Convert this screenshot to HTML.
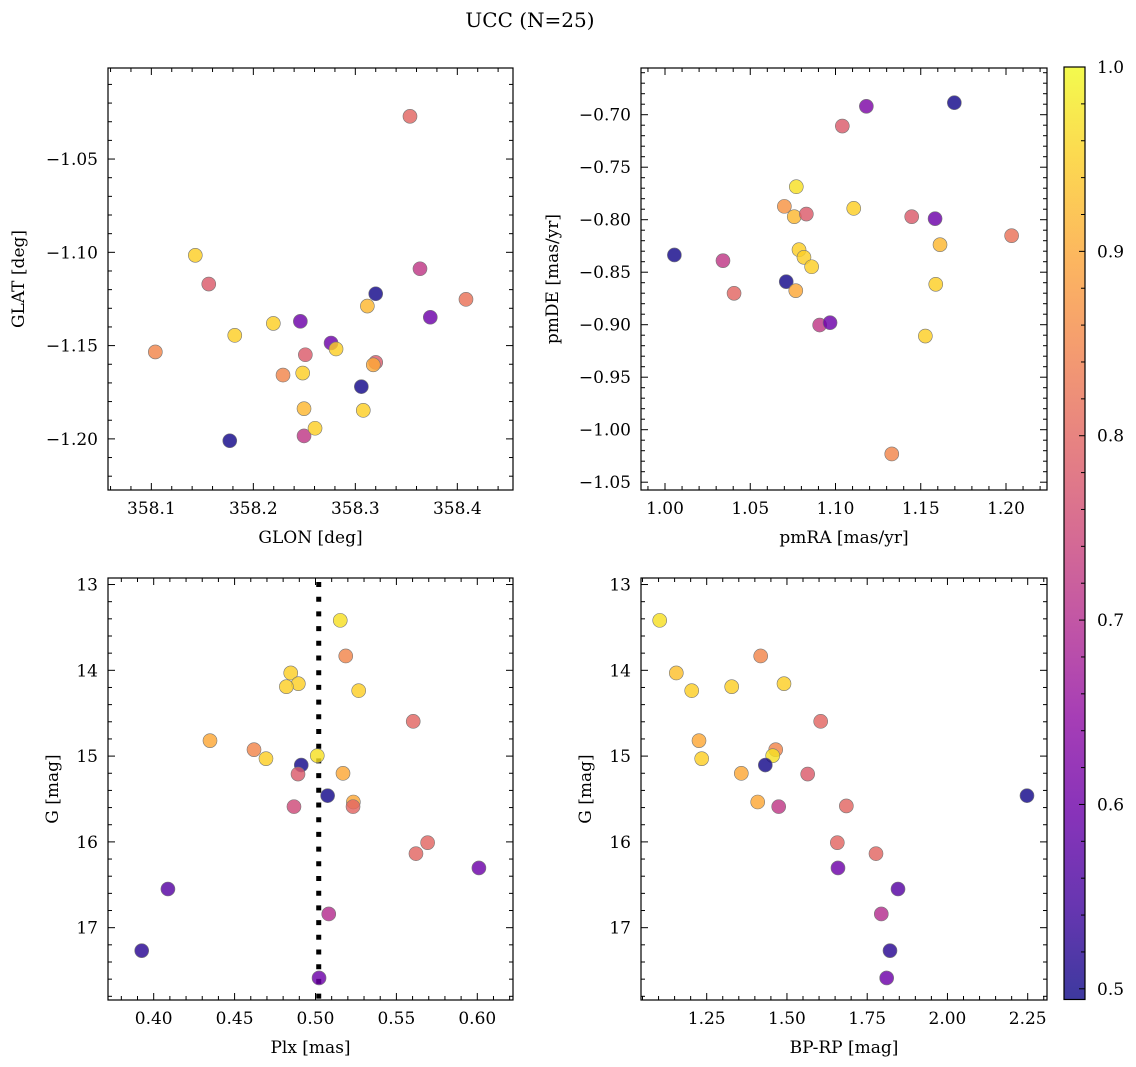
<!DOCTYPE html>
<html><head><meta charset="utf-8">
<style>
html,body{margin:0;padding:0;background:#fff;}
svg{display:block;font-family:"DejaVu Serif","Liberation Serif",serif;}
</style></head>
<body>
<svg id="fig" width="1136" height="1067" viewBox="0 0 1136 1067" xmlns="http://www.w3.org/2000/svg">
<defs>
<linearGradient id="plasma" x1="0" y1="1" x2="0" y2="0">
<stop offset="0" stop-color="#0d0887"/><stop offset="0.1" stop-color="#41049d"/><stop offset="0.2" stop-color="#6a00a8"/><stop offset="0.3" stop-color="#8f0da4"/><stop offset="0.4" stop-color="#b12a90"/><stop offset="0.5" stop-color="#cc4778"/><stop offset="0.6" stop-color="#e16462"/><stop offset="0.7" stop-color="#f2844b"/><stop offset="0.8" stop-color="#fca636"/><stop offset="0.9" stop-color="#fcce25"/><stop offset="1" stop-color="#f0f921"/>
</linearGradient>
</defs>
<text x="530" y="27" font-size="20" text-anchor="middle">UCC (N=25)</text>
</svg>
<script>
// ---- data ----
const glon = [358.3536,358.1431,358.1563,358.1039,358.1818,358.2196,358.2461,358.2510,358.2291,358.2484,358.2497,358.2497,358.2605,358.1769,358.2762,358.2811,358.3118,358.3200,358.3176,358.3059,358.3078,358.3200,358.3634,358.3735,358.4085];
const glat = [-1.0271,-1.1016,-1.1170,-1.1534,-1.1445,-1.1381,-1.1370,-1.1549,-1.1658,-1.1647,-1.1838,-1.1984,-1.1943,-1.2010,-1.1486,-1.1518,-1.1288,-1.1590,-1.1603,-1.1720,-1.1847,-1.1222,-1.1088,-1.1348,-1.1252];
const prob1 = [0.8,0.95,0.78,0.85,0.95,0.95,0.6,0.78,0.85,0.95,0.92,0.72,0.95,0.5,0.6,0.95,0.92,0.78,0.9,0.5,0.95,0.5,0.72,0.6,0.82];

const pmra = [1.1697,1.1181,1.1040,1.0770,1.0700,1.0758,1.0829,1.1107,1.1447,1.1584,1.2033,1.1613,1.0055,1.0340,1.0786,1.0815,1.0860,1.0711,1.0767,1.0405,1.1588,1.0907,1.0968,1.1527,1.1330];
const pmde = [-0.6886,-0.6920,-0.7108,-0.7686,-0.7873,-0.7971,-0.7946,-0.7892,-0.7971,-0.7990,-0.8152,-0.8238,-0.8336,-0.8390,-0.8286,-0.8358,-0.8448,-0.8590,-0.8676,-0.8701,-0.8615,-0.9003,-0.8981,-0.9108,-1.0231];
const prob2 = [0.5,0.62,0.78,0.97,0.87,0.92,0.78,0.95,0.78,0.6,0.82,0.92,0.5,0.72,0.95,0.95,0.95,0.5,0.9,0.8,0.95,0.72,0.6,0.95,0.85];

const plx = [0.5153,0.5187,0.4847,0.4894,0.4820,0.5267,0.5604,0.4348,0.4620,0.4694,0.5011,0.4912,0.4892,0.5170,0.5075,0.5234,0.5232,0.4867,0.5693,0.5621,0.6010,0.4088,0.5082,0.3926,0.5022];
const gmag3 = [13.418,13.833,14.031,14.156,14.191,14.237,14.595,14.820,14.925,15.030,14.995,15.104,15.209,15.201,15.461,15.535,15.589,15.589,16.009,16.137,16.304,16.549,16.840,17.268,17.586];
const prob3 = [0.97,0.85,0.95,0.95,0.95,0.95,0.8,0.9,0.85,0.95,0.97,0.5,0.78,0.9,0.5,0.9,0.8,0.75,0.8,0.8,0.6,0.57,0.7,0.52,0.6];
const plxLine = [0.502];

const bprp = [1.1036,1.1553,1.2033,1.3279,1.4182,1.4908,1.6051,1.2260,1.2344,1.4650,1.4556,1.3578,1.4326,1.5646,1.4089,1.4743,1.6850,1.6569,1.7774,1.6590,1.8460,1.7939,1.8210,1.8107,2.2478];
const gmag4 = [13.418,14.031,14.237,14.191,13.833,14.156,14.595,14.820,15.030,14.925,14.995,15.201,15.104,15.209,15.535,15.589,15.581,16.009,16.137,16.304,16.549,16.840,17.268,17.586,15.461];
const prob4 = [0.97,0.93,0.95,0.95,0.85,0.95,0.8,0.9,0.95,0.85,0.97,0.9,0.5,0.78,0.9,0.72,0.8,0.8,0.8,0.6,0.57,0.7,0.52,0.6,0.5];

const cbTicks = [0.5,0.6,0.7,0.8,0.9,1.0];

const NS='http://www.w3.org/2000/svg';
const svg=document.getElementById('fig');
function el(tag,attrs,parent){const e=document.createElementNS(NS,tag);for(const k in attrs)e.setAttribute(k,attrs[k]);(parent||svg).appendChild(e);return e;}

const stops=[[13,8,135],[65,4,157],[106,0,168],[143,13,164],[177,42,144],[204,71,120],[225,100,98],[242,132,75],[252,166,54],[252,206,37],[240,249,33]];
const VMIN=0.4942,VMAX=1.0;
function cmap(v){let t=(v-VMIN)/(VMAX-VMIN);t=Math.max(0,Math.min(1,t))*10;const i=Math.min(9,Math.floor(t)),f=t-i;const a=stops[i],b=stops[i+1];return 'rgb('+a.map((c,k)=>Math.round(c+(b[k]-c)*f)).join(',')+')';}

function fmt(v,d){return v.toFixed(d).replace('-','\u2212');}

function panel(p){
  const g=el('g',{});
  
  
  const sx=v=>p.x0+(v-p.xlim[0])/(p.xlim[1]-p.xlim[0])*(p.x1-p.x0);
  const sy=v=>p.y1-(v-p.ylim[0])/(p.ylim[1]-p.ylim[0])*(p.y1-p.y0);
  const tg=el('g',{stroke:'#000','stroke-width':1},g);
  const eps=1e-9;
  const lo=Math.min(...p.xlim),hi=Math.max(...p.xlim);
  for(let k=Math.ceil(lo/p.xminor-eps);k*p.xminor<=hi+eps;k++){
    const v=k*p.xminor;
    const x=sx(v);const maj=Math.abs(v/p.xmajor-Math.round(v/p.xmajor))<1e-6;const L=maj?7:4;
    el('line',{x1:x,x2:x,y1:p.y1,y2:p.y1-L},tg);el('line',{x1:x,x2:x,y1:p.y0,y2:p.y0+L},tg);
    if(maj){const t=el('text',{x:x,y:p.y1+24,'font-size':17,'text-anchor':'middle',stroke:'none',fill:'#000'},g);t.textContent=fmt(v,p.xdec);
      }
  }
  const ylo=Math.min(...p.ylim),yhi=Math.max(...p.ylim);
  for(let k=Math.ceil(ylo/p.yminor-eps);k*p.yminor<=yhi+eps;k++){
    const v=k*p.yminor;
    const y=sy(v);const maj=Math.abs(v/p.ymajor-Math.round(v/p.ymajor))<1e-6;const L=maj?7:4;
    el('line',{x1:p.x0,x2:p.x0+L,y1:y,y2:y},tg);el('line',{x1:p.x1,x2:p.x1-L,y1:y,y2:y},tg);
    if(maj){const t=el('text',{x:p.x0-10,y:y+6,'font-size':17,'text-anchor':'end',stroke:'none',fill:'#000'},g);t.textContent=fmt(v,p.ydec);
      }
  }
  if(p.vline){const x=sx(p.vline[0]);const l=el('line',{x1:x,x2:x,y1:p.y0+4,y2:p.y1,stroke:'#000','stroke-width':5,'stroke-dasharray':'5,9.7'},g);
    }
  for(let i=0;i<p.xs.length;i++){
    const c=el('circle',{cx:sx(p.xs[i]),cy:sy(p.ys[i]),r:7,fill:cmap(p.cs[i]),'fill-opacity':0.82,stroke:'#777','stroke-width':0.6},g);
    
  }
  const fr=el('rect',{x:p.x0,y:p.y0,width:p.x1-p.x0,height:p.y1-p.y0,fill:'none',stroke:'#000','stroke-width':1.2},g);
  
  const xl=el('text',{x:(p.x0+p.x1)/2,y:p.y1+53,'font-size':17,'text-anchor':'middle'},g);xl.textContent=p.xlabel;
  
  const yx=p.ylx,yy=(p.y0+p.y1)/2;
  const yl=el('text',{x:yx,y:yy,'font-size':17,'text-anchor':'middle',transform:'rotate(-90 '+yx+' '+yy+')'},g);yl.textContent=p.ylabel;
  
}

panel({name:'glon-glat-panel',x0:108,x1:513,y0:68,y1:490,xlim:[358.0575,358.4546],ylim:[-1.2274,-1.0012],xmajor:0.1,xminor:0.02,ymajor:0.05,yminor:0.01,xdec:1,ydec:2,xs:glon,ys:glat,cs:prob1,xlabel:'GLON [deg]',ylabel:'GLAT [deg]',ylx:24});
panel({name:'proper-motion-panel',x0:641,x1:1047,y0:68,y1:490,xlim:[0.98592,1.22405],ylim:[-1.05743,-0.65552],xmajor:0.05,xminor:0.01,ymajor:0.05,yminor:0.01,xdec:2,ydec:2,xs:pmra,ys:pmde,cs:prob2,xlabel:'pmRA [mas/yr]',ylabel:'pmDE [mas/yr]',ylx:558});
panel({name:'parallax-mag-panel',x0:108,x1:513,y0:578,y1:1000,xlim:[0.37176,0.62207],ylim:[17.843,12.924],xmajor:0.05,xminor:0.01,ymajor:1,yminor:0.2,xdec:2,ydec:0,xs:plx,ys:gmag3,cs:prob3,vline:plxLine,xlabel:'Plx [mas]',ylabel:'G [mag]',ylx:58});
panel({name:'cmd-panel',x0:641,x1:1047,y0:578,y1:1000,xlim:[1.04533,2.31012],ylim:[17.843,12.924],xmajor:0.25,xminor:0.05,ymajor:1,yminor:0.2,xdec:2,ydec:0,xs:bprp,ys:gmag4,cs:prob4,xlabel:'BP-RP [mag]',ylabel:'G [mag]',ylx:591});

// colorbar
const cb=el('g',{});


const CX0=1064,CX1=1085,CY0=67,CY1=999.5;
el('rect',{x:CX0,y:CY0,width:CX1-CX0,height:CY1-CY0,fill:'url(#plasma)','fill-opacity':0.8},cb);
const cy=v=>CY1-(v-VMIN)/(VMAX-VMIN)*(CY1-CY0);
for(let k=25;k<=50;k++){const v=k*0.02;const y=cy(v);const maj=(k%5===0);
  el('line',{x1:CX1,x2:CX1-(maj?6:4),y1:y,y2:y,stroke:'#000','stroke-width':1},cb);}
for(const v of cbTicks){const t=el('text',{x:CX1+12,y:cy(v)+6,'font-size':17},cb);t.textContent=v.toFixed(1);
  }
el('rect',{x:CX0,y:CY0,width:CX1-CX0,height:CY1-CY0,fill:'none',stroke:'#000','stroke-width':1.2},cb);
</script>
</body></html>
